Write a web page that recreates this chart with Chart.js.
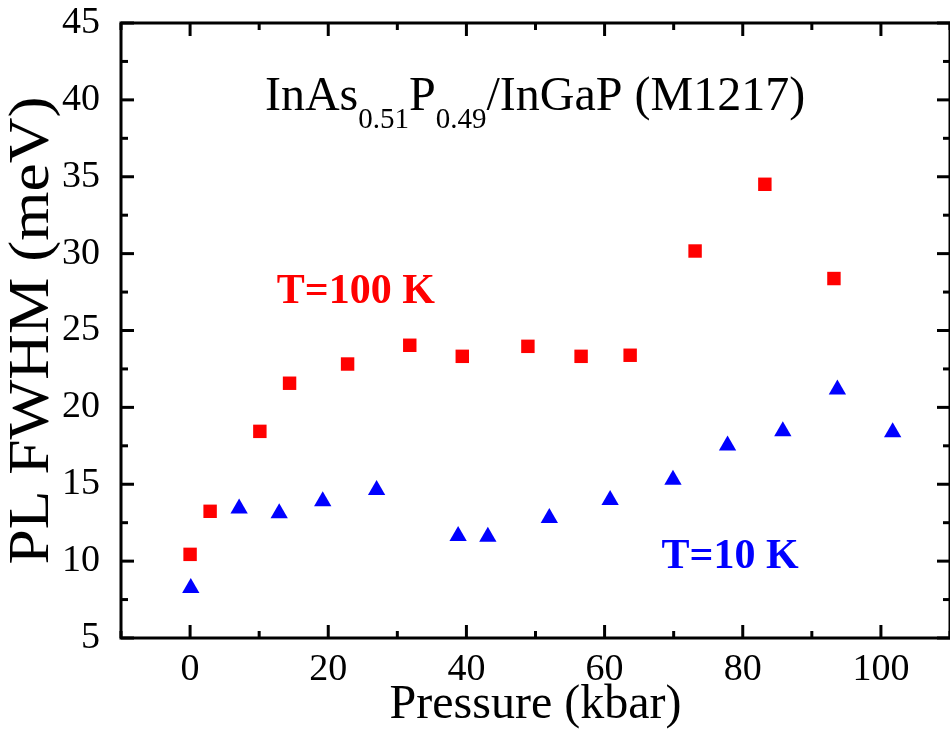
<!DOCTYPE html>
<html>
<head>
<meta charset="utf-8">
<script src="https://cdn.jsdelivr.net/npm/chart.js@4.4.1/dist/chart.umd.min.js"></script>
<style>
  html, body { margin: 0; padding: 0; background: #fff; overflow: hidden; width: 950px; height: 734px; }
  canvas { display: block; }
</style>
</head>
<body>
<canvas id="c" width="960" height="734"></canvas>
<script>
// PL linewidth vs hydrostatic pressure, two temperatures
const pressure100K = [0, 2.9, 10.1, 14.4, 22.8, 31.8, 39.4, 48.9, 56.6, 63.7, 73.1, 83.2, 93.2];
const fwhm100K     = [10.44, 13.24, 18.44, 21.57, 22.82, 24.04, 23.32, 23.97, 23.32, 23.39, 30.17, 34.51, 28.38];

const pressure10K = [0.1, 7.1, 12.9, 19.2, 27.0, 38.8, 43.1, 52.0, 60.8, 69.9, 77.8, 85.8, 93.7, 101.7];
const fwhm10K     = [8.26, 13.42, 13.12, 13.90, 14.62, 11.64, 11.58, 12.81, 13.98, 15.30, 17.52, 18.44, 21.16, 18.38];

const xTicks = [0, 20, 40, 60, 80, 100];
const xMinorTicks = [-10, 10, 30, 50, 70, 90, 110];
const yTicks = [5, 10, 15, 20, 25, 30, 35, 40, 45];
const yMinorTicks = [7.5, 12.5, 17.5, 22.5, 27.5, 32.5, 37.5, 42.5];

const xTitle = 'Pressure (kbar)';
const yTitle = 'PL FWHM (meV)';
const label100K = 'T=100 K';
const label10K = 'T=10 K';

const SERIF = "'Liberation Serif', 'Times New Roman', serif";

// Closed box with inward major/minor ticks on all four sides
const framePlugin = {
  id: 'frame',
  beforeDatasetsDraw(chart) {
    const { ctx, chartArea: a, scales: { x, y } } = chart;
    ctx.save();
    ctx.strokeStyle = '#000';
    ctx.lineWidth = 3;
    ctx.lineCap = 'butt';
    ctx.strokeRect(a.left, a.top, a.right - a.left, a.bottom - a.top);
    const seg = (x1, y1, x2, y2) => { ctx.beginPath(); ctx.moveTo(x1, y1); ctx.lineTo(x2, y2); ctx.stroke(); };
    const xt = (vals, len) => vals.forEach(v => {
      const p = x.getPixelForValue(v);
      seg(p, a.bottom, p, a.bottom - len);
      seg(p, a.top, p, a.top + len);
    });
    const yt = (vals, len) => vals.forEach(v => {
      const p = y.getPixelForValue(v);
      seg(a.left, p, a.left + len, p);
      seg(a.right, p, a.right - len, p);
    });
    xt(xTicks, 13); xt(xMinorTicks, 7);
    yt(yTicks, 13); yt(yMinorTicks, 7);
    ctx.restore();
  }
};

// Vertical axis title, drawn rotated and slightly widened along its run
const yTitlePlugin = {
  id: 'yTitle',
  afterDraw(chart) {
    const { ctx, chartArea: a } = chart;
    ctx.save();
    ctx.font = `56px ${SERIF}`;
    ctx.fillStyle = '#000';
    ctx.textAlign = 'center';
    ctx.textBaseline = 'alphabetic';
    const w = ctx.measureText(yTitle).width;
    const stretch = 468 / w;
    ctx.translate(48, (a.top + a.bottom) / 2);
    ctx.rotate(-Math.PI / 2);
    ctx.scale(stretch, 1);
    ctx.fillText(yTitle, 0, 0);
    ctx.restore();
  }
};

// Sample name (with subscripts) and temperature labels, anchored in data coordinates
const labelPlugin = {
  id: 'labels',
  afterDraw(chart) {
    const { ctx, scales: { x, y } } = chart;
    ctx.save();
    ctx.textBaseline = 'alphabetic';
    ctx.textAlign = 'left';

    const parts = [
      { t: 'InAs', sub: false },
      { t: '0.51', sub: true },
      { t: 'P', sub: false },
      { t: '0.49', sub: true },
      { t: '/InGaP (M1217)', sub: false }
    ];
    let px = x.getPixelForValue(10.84);
    const base = y.getPixelForValue(39.32);
    ctx.fillStyle = '#000';
    parts.forEach(p => {
      ctx.font = p.sub ? `29px ${SERIF}` : `48px ${SERIF}`;
      ctx.fillText(p.t, px, p.sub ? base + 18 : base);
      px += ctx.measureText(p.t).width;
    });

    ctx.font = `bold 42px ${SERIF}`;
    ctx.fillStyle = '#ff0000';
    ctx.fillText(label100K, x.getPixelForValue(12.56), y.getPixelForValue(26.77));
    ctx.fillStyle = '#0000ff';
    ctx.fillText(label10K, x.getPixelForValue(68.25), y.getPixelForValue(9.53));
    ctx.restore();
  }
};

new Chart(document.getElementById('c'), {
  type: 'scatter',
  data: {
    datasets: [
      {
        label: label100K,
        data: pressure100K.map((p, i) => ({ x: p, y: fwhm100K[i] })),
        pointStyle: 'rect',
        pointRadius: 9.5,
        pointBorderWidth: 0,
        backgroundColor: '#ff0000',
        borderColor: '#ff0000'
      },
      {
        label: label10K,
        data: pressure10K.map((p, i) => ({ x: p, y: fwhm10K[i] })),
        pointStyle: 'triangle',
        pointRadius: 10,
        pointBorderWidth: 0,
        backgroundColor: '#0000ff',
        borderColor: '#0000ff'
      }
    ]
  },
  options: {
    responsive: false,
    animation: false,
    events: [],
    layout: { padding: { top: 23, right: 4, left: 0, bottom: 0 } },
    plugins: { legend: { display: false }, tooltip: { enabled: false } },
    scales: {
      x: {
        type: 'linear',
        min: -10, max: 110,
        grid: { display: false },
        border: { display: false },
        afterBuildTicks: s => { s.ticks = xTicks.map(v => ({ value: v })); },
        afterFit: s => { s.height = 96; s.paddingLeft = 0; s.paddingRight = 0; },
        ticks: { color: '#000', font: { family: SERIF, size: 38 }, padding: 1, maxRotation: 0 },
        title: { display: true, text: xTitle, color: '#000', font: { family: SERIF, size: 48, lineHeight: 1.2 }, padding: { top: 0, bottom: 0 } }
      },
      y: {
        type: 'linear',
        min: 5, max: 45,
        grid: { display: false },
        border: { display: false },
        afterBuildTicks: s => { s.ticks = yTicks.map(v => ({ value: v })); },
        afterFit: s => { s.width = 121; s.paddingTop = 0; s.paddingBottom = 0; },
        ticks: { color: '#000', font: { family: SERIF, size: 38 }, padding: 13 },
        title: { display: false }
      }
    }
  },
  plugins: [framePlugin, yTitlePlugin, labelPlugin]
});
</script>
</body>
</html>
